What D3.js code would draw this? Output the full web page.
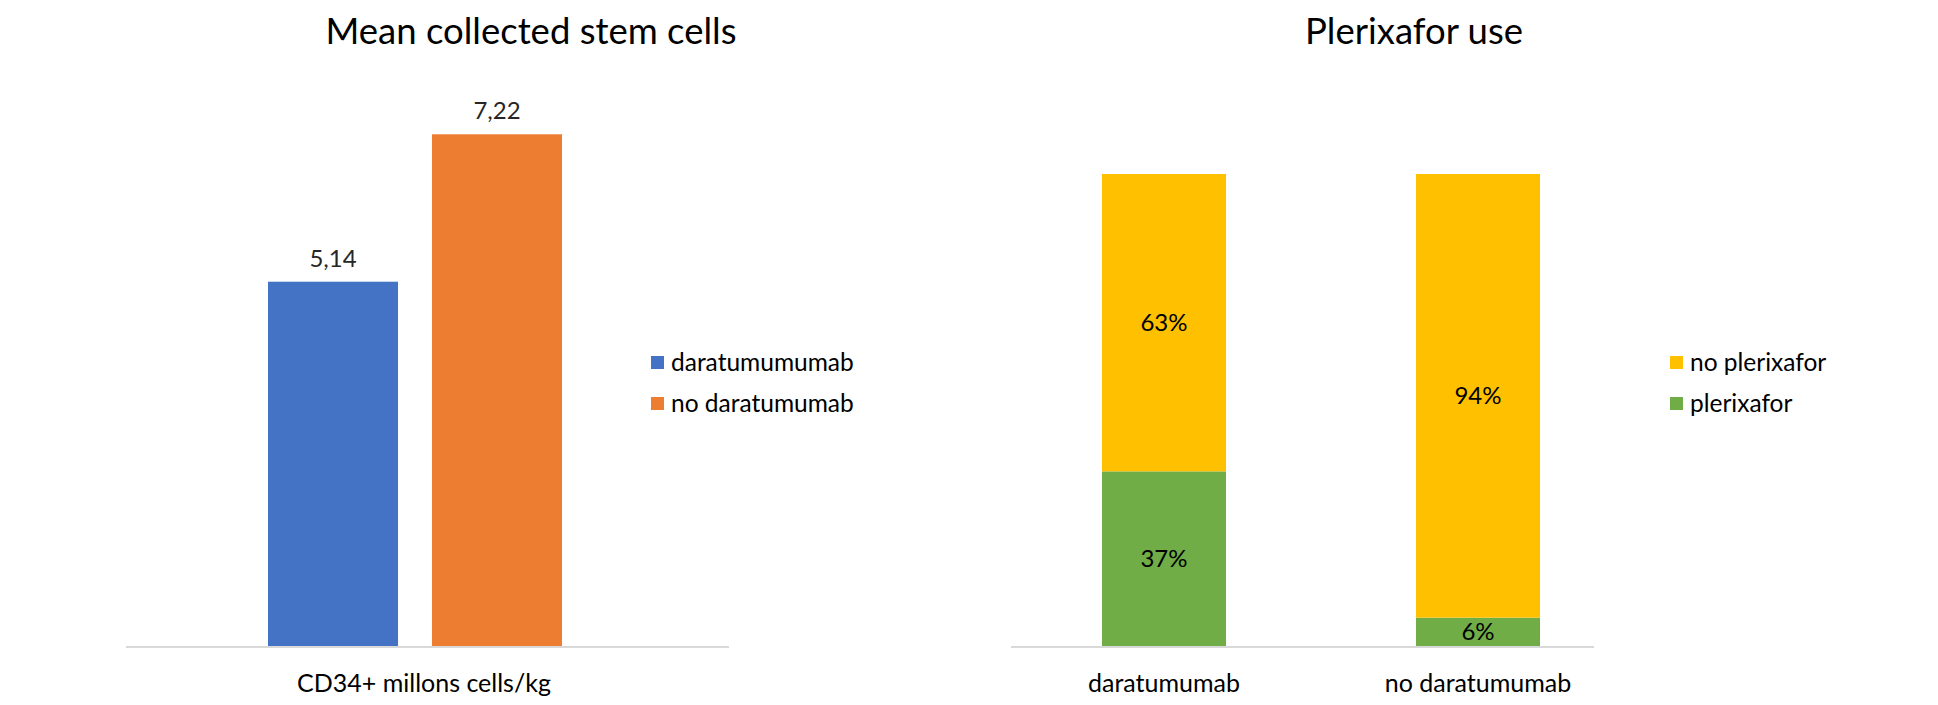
<!DOCTYPE html>
<html>
<head>
<meta charset="utf-8">
<script src="https://cdn.jsdelivr.net/npm/d3@7"></script>
<style>
  html, body { margin: 0; padding: 0; background: #fff; }
  svg { display: block; font-family: Lato, "Open Sans", sans-serif; }
</style>
</head>
<body>
<svg id="chart" width="1938" height="705"></svg>
<script>
// ---- Data ----
const leftTitle = "Mean collected stem cells";
const leftCategory = "CD34+ millons cells/kg";
const leftSeries = ["daratumumumab", "no daratumumab"];
const leftValues = [5.14, 7.22];
const leftLabels = ["5,14", "7,22"];
const leftColors = ["#4472C4", "#ED7D31"];

const rightTitle = "Plerixafor use";
const rightCategories = ["daratumumab", "no daratumumab"];
const rightSeries = ["plerixafor", "no plerixafor"];
const plerixaforValues = [37, 6];
const noPlerixaforValues = [63, 94];
const rightColors = {"plerixafor": "#70AD47", "no plerixafor": "#FFC000"};
const rightLegendOrder = ["no plerixafor", "plerixafor"];

// ---- Layout ----
const svg = d3.select("#chart");
const baseY = 646;
const axisColor = "#d9d9d9";
const titleSize = 36.5;
const catSize = 25;
const legSize = 24.5;
const valSize = 24;

// ===== Left chart =====
const yL = d3.scaleLinear().domain([0, 8]).range([baseY, 79]);
const xL = d3.scaleBand().domain(leftSeries).range([268, 562]).paddingInner(0.207).paddingOuter(0);

const gL = svg.append("g");
gL.append("text").attr("x", 531).attr("y", 44).attr("text-anchor", "middle")
  .attr("font-size", titleSize).attr("fill", "#000").text(leftTitle);

gL.selectAll("rect.bar").data(leftSeries).join("rect").attr("class", "bar")
  .attr("x", d => xL(d)).attr("width", xL.bandwidth())
  .attr("y", (d, i) => yL(leftValues[i]))
  .attr("height", (d, i) => baseY - yL(leftValues[i]))
  .attr("fill", (d, i) => leftColors[i]);

gL.selectAll("text.val").data(leftSeries).join("text").attr("class", "val")
  .attr("x", d => xL(d) + xL.bandwidth() / 2)
  .attr("y", (d, i) => yL(leftValues[i]) - 15)
  .attr("text-anchor", "middle").attr("font-size", valSize).attr("fill", "#262626")
  .text((d, i) => leftLabels[i]);

gL.append("line").attr("x1", 126).attr("x2", 729).attr("y1", baseY + 1).attr("y2", baseY + 1)
  .attr("stroke", axisColor).attr("stroke-width", 2);

gL.append("text").attr("x", 424).attr("y", 692).attr("text-anchor", "middle")
  .attr("font-size", catSize).attr("fill", "#000").text(leftCategory);

const legL = gL.selectAll("g.leg").data(leftSeries).join("g").attr("class", "leg")
  .attr("transform", (d, i) => `translate(651, ${362 + i * 41})`);
legL.append("rect").attr("x", 0).attr("y", -6).attr("width", 13).attr("height", 13)
  .attr("fill", (d, i) => leftColors[i]);
legL.append("text").attr("x", 20).attr("y", 0).attr("dy", "0.35em")
  .attr("font-size", legSize).attr("fill", "#000").text(d => d);

// ===== Right chart =====
const yR = d3.scaleLinear().domain([0, 100]).range([baseY, 174]);
const xR = d3.scaleBand().domain(rightCategories).range([1007, 1635]).paddingInner(0.605).paddingOuter(0.3025);

const stackData = rightCategories.map((c, i) => ({
  category: c, "plerixafor": plerixaforValues[i], "no plerixafor": noPlerixaforValues[i]
}));
const stacked = d3.stack().keys(rightSeries)(stackData);

const gR = svg.append("g");
gR.append("text").attr("x", 1414).attr("y", 44).attr("text-anchor", "middle")
  .attr("font-size", titleSize).attr("fill", "#000").text(rightTitle);

const layers = gR.selectAll("g.layer").data(stacked).join("g").attr("class", "layer")
  .attr("fill", d => rightColors[d.key]);
layers.selectAll("rect").data(d => d).join("rect")
  .attr("x", d => xR(d.data.category)).attr("width", xR.bandwidth())
  .attr("y", d => yR(d[1])).attr("height", d => yR(d[0]) - yR(d[1]));

layers.selectAll("text").data(d => d).join("text")
  .attr("x", d => xR(d.data.category) + xR.bandwidth() / 2)
  .attr("y", d => (yR(d[0]) + yR(d[1])) / 2)
  .attr("dy", "0.35em").attr("text-anchor", "middle")
  .attr("font-size", valSize).attr("fill", "#000")
  .text(d => (d[1] - d[0]) + "%");

gR.append("line").attr("x1", 1011).attr("x2", 1594).attr("y1", baseY + 1).attr("y2", baseY + 1)
  .attr("stroke", axisColor).attr("stroke-width", 2);

gR.selectAll("text.cat").data(rightCategories).join("text").attr("class", "cat")
  .attr("x", d => xR(d) + xR.bandwidth() / 2).attr("y", 692)
  .attr("text-anchor", "middle").attr("font-size", catSize).attr("fill", "#000")
  .text(d => d);

const legR = gR.selectAll("g.leg").data(rightLegendOrder).join("g").attr("class", "leg")
  .attr("transform", (d, i) => `translate(1670, ${362 + i * 41})`);
legR.append("rect").attr("x", 0).attr("y", -6).attr("width", 13).attr("height", 13)
  .attr("fill", d => rightColors[d]);
legR.append("text").attr("x", 20).attr("y", 0).attr("dy", "0.35em")
  .attr("font-size", legSize).attr("fill", "#000").text(d => d);
</script>
</body>
</html>
